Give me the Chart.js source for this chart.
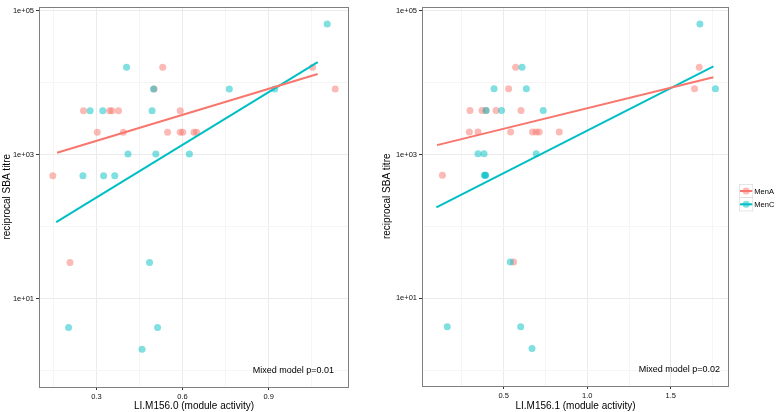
<!DOCTYPE html>
<html><head><meta charset="utf-8">
<script src="https://cdn.jsdelivr.net/npm/chart.js@4.4.1/dist/chart.umd.min.js"></script>
<style>
html,body{margin:0;padding:0;background:#fff;}
#wrap{position:relative;width:778px;height:412px;overflow:hidden;background:#fff;}
canvas{position:absolute;top:0;}
</style></head><body>
<div id="wrap">
<canvas id="c1" width="370" height="412" style="left:0px"></canvas>
<canvas id="c2" width="400" height="412" style="left:378px"></canvas>
</div>
<script>
// ---------- data ----------
const groups = ['MenA', 'MenC'];
const yTickValues = [1, 10, 100, 1000, 10000, 100000];
const yTickLabels = ['', '1e+01', '', '1e+03', '', '1e+05'];
const yTitle = 'reciprocal SBA titre';

// Panel 1: LI.M156.0
const p1Title = 'LI.M156.0 (module activity)';
const p1Note = 'Mixed model p=0.01';
const p1XTicks = [0.15, 0.3, 0.45, 0.6, 0.75, 0.9, 1.05];
const p1XTickLabels = ['', '0.3', '', '0.6', '', '0.9', ''];
const p1MenA_x = [0.531, 1.053, 0.501, 1.132, 0.255, 0.346, 0.354, 0.377, 0.592, 0.303, 0.394, 0.548, 0.592, 0.601, 0.640, 0.649, 0.148, 0.208];
const p1MenA_titre = [16384, 16384, 8192, 8192, 4096, 4096, 4096, 4096, 4096, 2048, 2048, 2048, 2048, 2048, 2048, 2048, 512, 32];
const p1MenC_x = [1.104, 0.405, 0.499, 0.763, 0.921, 0.278, 0.322, 0.494, 0.410, 0.507, 0.624, 0.253, 0.325, 0.364, 0.485, 0.203, 0.513, 0.459];
const p1MenC_titre = [65536, 16384, 8192, 8192, 8192, 4096, 4096, 4096, 1024, 1024, 1024, 512, 512, 512, 32, 4, 4, 2];
const p1MenA_fitX = [0.163, 1.071];
const p1MenA_fitY = [1069, 13200];
const p1MenC_fitX = [0.160, 1.071];
const p1MenC_fitY = [116, 19300];

// Panel 2: LI.M156.1
const p2Title = 'LI.M156.1 (module activity)';
const p2Note = 'Mixed model p=0.02';
const p2XTicks = [0.25, 0.5, 0.75, 1.0, 1.25, 1.5, 1.75];
const p2XTickLabels = ['', '0.5', '', '1.0', '', '1.5', ''];
const p2MenA_x = [0.572, 1.670, 0.530, 1.642, 0.299, 0.371, 0.395, 0.455, 0.604, 0.295, 0.347, 0.542, 0.673, 0.695, 0.713, 0.833, 0.134, 0.560];
const p2MenA_titre = [16384, 16384, 8192, 8192, 4096, 4096, 4096, 4096, 4096, 2048, 2048, 2048, 2048, 2048, 2048, 2048, 512, 32];
const p2MenC_x = [1.674, 0.610, 0.443, 0.636, 1.767, 0.395, 0.488, 0.737, 0.347, 0.383, 0.695, 0.385, 0.390, 0.393, 0.540, 0.163, 0.602, 0.670];
const p2MenC_titre = [65536, 16384, 8192, 8192, 8192, 4096, 4096, 4096, 1024, 1024, 1024, 512, 512, 512, 32, 4, 4, 2];
const p2MenA_fitX = [0.102, 1.755];
const p2MenA_fitY = [1349, 11900];
const p2MenC_fitX = [0.098, 1.755];
const p2MenC_fitY = [184, 16800];

// ---------- styling ----------
const FONT = '"Liberation Sans", Arial, Helvetica, sans-serif';
const COL = { MenA: '#F8766D', MenC: '#00BFC4' };
const COLA = { MenA: 'rgba(248,118,109,0.5)', MenC: 'rgba(0,191,196,0.5)' };

function pts(xs, ys) { return xs.map((x, i) => ({ x: x, y: ys[i] })); }

const panelPlugin = {
  id: 'panelDeco',
  afterDraw(chart, args, opts) {
    const { ctx, chartArea: a } = chart;
    ctx.save();
    // panel border
    ctx.strokeStyle = '#7f7f7f';
    ctx.lineWidth = 1;
    ctx.strokeRect(Math.round(a.left) + 0.5, Math.round(a.top) + 0.5, Math.round(a.right - a.left) - 1, Math.round(a.bottom - a.top) - 1);
    // annotation
    ctx.fillStyle = '#000';
    ctx.font = '9px ' + FONT;
    ctx.textAlign = 'right';
    ctx.textBaseline = 'middle';
    ctx.fillText(opts.note, a.right - opts.noteDx, a.bottom - 16.5);
    // legend
    if (opts.legend) {
      const kx = a.right + 10.5, ks = 13.3;
      const cys = [191, 204.3];
      groups.forEach((g, i) => {
        const cy = cys[i];
        ctx.fillStyle = '#fff';
        ctx.fillRect(kx, cy - ks / 2, ks, ks);
        ctx.strokeStyle = '#d6d6d6';
        ctx.lineWidth = 0.6;
        ctx.strokeRect(kx, cy - ks / 2, ks, ks);
        ctx.strokeStyle = COL[g];
        ctx.lineWidth = 2;
        ctx.beginPath();
        ctx.moveTo(kx + 0.5, cy);
        ctx.lineTo(kx + ks - 0.5, cy);
        ctx.stroke();
        ctx.fillStyle = COLA[g];
        ctx.beginPath();
        ctx.arc(kx + ks / 2, cy, 3.5, 0, Math.PI * 2);
        ctx.fill();
        ctx.fillStyle = '#000';
        ctx.font = '7.5px ' + FONT;
        ctx.textAlign = 'left';
        ctx.textBaseline = 'middle';
        ctx.fillText(g, kx + ks + 1.5, cy + 0.5);
      });
    }
    ctx.restore();
  }
};

function makeChart(id, cfg) {
  const isMajor = (labels, i) => labels[i] !== undefined && labels[i] !== '';
  return new Chart(document.getElementById(id), {
    type: 'scatter',
    data: {
      datasets: [
        { label: 'MenA fit', data: pts(cfg.aFitX, cfg.aFitY), showLine: true, borderColor: COL.MenA, borderWidth: 2, pointRadius: 0, order: 0 },
        { label: 'MenC fit', data: pts(cfg.cFitX, cfg.cFitY), showLine: true, borderColor: COL.MenC, borderWidth: 2, pointRadius: 0, order: 0 },
        { label: 'MenC', data: pts(cfg.cX, cfg.cY), backgroundColor: COLA.MenC, borderWidth: 0, pointRadius: 3.5, order: 1 },
        { label: 'MenA', data: pts(cfg.aX, cfg.aY), backgroundColor: COLA.MenA, borderWidth: 0, pointRadius: 3.5, order: 2 }
      ]
    },
    options: {
      responsive: false,
      animation: false,
      devicePixelRatio: 1,
      layout: { padding: { left: 0, top: 0, right: cfg.padRight, bottom: 0 } },
      plugins: {
        legend: { display: false },
        tooltip: { enabled: false },
        panelDeco: { note: cfg.note, noteDx: cfg.noteDx, legend: cfg.legend }
      },
      scales: {
        x: {
          type: 'linear',
          min: cfg.xMin, max: cfg.xMax,
          afterBuildTicks: s => { s.ticks = cfg.xTicks.map(v => ({ value: v })); },
          afterFit: s => { s.height = cfg.xAxisH; },
          ticks: {
            autoSkip: false, maxRotation: 0, padding: 2,
            color: '#111', font: { family: FONT, size: 7.5 },
            callback: (v, i) => cfg.xTickLabels[i]
          },
          grid: {
            color: c => isMajor(cfg.xTickLabels, c.index) ? '#ebebeb' : '#f5f5f5',
            lineWidth: 1,
            tickLength: 3,
            tickColor: c => isMajor(cfg.xTickLabels, c.index) ? '#333' : 'rgba(0,0,0,0)'
          },
          border: { display: false },
          title: { display: true, text: cfg.title, color: '#000', font: { family: FONT, size: 10 }, padding: 0 }
        },
        y: {
          type: 'logarithmic',
          min: cfg.yMin, max: cfg.yMax,
          afterBuildTicks: s => { s.ticks = yTickValues.map(v => ({ value: v })); },
          afterFit: s => { s.width = cfg.yAxisW; },
          ticks: {
            autoSkip: false, padding: 2,
            color: '#111', font: { family: FONT, size: 7.5 },
            callback: (v, i) => yTickLabels[i]
          },
          grid: {
            color: c => isMajor(yTickLabels, c.index) ? '#ebebeb' : '#f5f5f5',
            lineWidth: 1,
            tickLength: 3,
            tickColor: c => isMajor(yTickLabels, c.index) ? '#333' : 'rgba(0,0,0,0)'
          },
          border: { display: false },
          title: { display: true, text: yTitle, color: '#000', font: { family: FONT, size: 10 }, padding: { top: cfg.yTitlePad, bottom: 0 } }
        }
      }
    },
    plugins: [panelPlugin]
  });
}

makeChart('c1', {
  aX: p1MenA_x, aY: p1MenA_titre, cX: p1MenC_x, cY: p1MenC_titre,
  aFitX: p1MenA_fitX, aFitY: p1MenA_fitY, cFitX: p1MenC_fitX, cFitY: p1MenC_fitY,
  xTicks: p1XTicks, xTickLabels: p1XTickLabels, title: p1Title, note: p1Note,
  xMin: 0.100, xMax: 1.180, yMin: Math.pow(10, -0.2246), yMax: Math.pow(10, 5.0587),
  padRight: 21, xAxisH: 25, yAxisW: 39, yTitlePad: 1, noteDx: 15, legend: false
});
makeChart('c2', {
  aX: p2MenA_x, aY: p2MenA_titre, cX: p2MenC_x, cY: p2MenC_titre,
  aFitX: p2MenA_fitX, aFitY: p2MenA_fitY, cFitX: p2MenC_fitX, cFitY: p2MenC_fitY,
  xTicks: p2XTicks, xTickLabels: p2XTickLabels, title: p2Title, note: p2Note,
  xMin: 0.012, xMax: 1.848, yMin: Math.pow(10, -0.2175), yMax: Math.pow(10, 5.0588),
  padRight: 49, xAxisH: 26, yAxisW: 44, yTitlePad: 3, noteDx: 9, legend: true
});
</script>
</body></html>
